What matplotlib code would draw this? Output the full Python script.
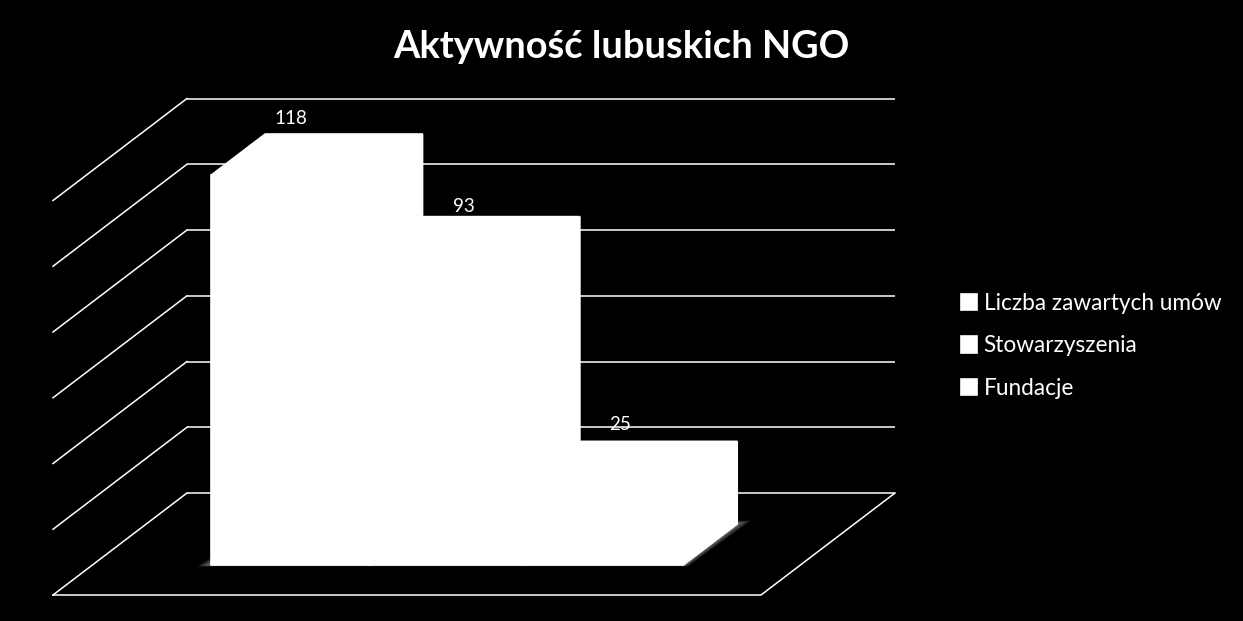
import matplotlib
matplotlib.use("Agg")
import matplotlib.pyplot as plt
import numpy as np
from matplotlib.patches import Polygon
from matplotlib.transforms import Affine2D, IdentityTransform

# data
title = "Aktywność lubuskich NGO"
series_names = ["Liczba zawartych umów", "Stowarzyszenia", "Fundacje"]
series_values = [118, 93, 25]
grid_levels = [0, 20, 40, 60, 80, 100, 120]

W, H = 1243, 621
# how far the front of the floor sits from the back wall, in pixels
floor_dx, floor_dy = 134, 102
bar_depth = 0.402
line_w = 1.1

plt.rcParams["font.family"] = ["Lato", "DejaVu Sans"]


def px_box(left, top, right, bottom):
    return [left / W, 1 - bottom / H, (right - left) / W, (bottom - top) / H]


def proj(ax, x, v, d):
    # data point on a plane d (0 back wall, 1 front of floor) -> display pixels
    p = ax.transData.transform((x, v))
    return p[0] - floor_dx * d, p[1] - floor_dy * d


fig = plt.figure(figsize=(W / 100, H / 100), dpi=100, facecolor="black")

# back wall axes holds the grid
wall = fig.add_axes(px_box(187, 98.5, 895, 493))
wall.set_xlim(0, 4.5)
wall.set_ylim(0, 120)
wall.autoscale(False)
wall.axis("off")

for level in grid_levels:
    wall.plot([0, 4.5], [level, level], color="white", lw=line_w, clip_on=False,
              solid_capstyle="butt")
    a = proj(wall, 0, level, 0)
    b = proj(wall, 0, level, 1)
    wall.plot([a[0], b[0]], [a[1], b[1]], color="white", lw=line_w,
              transform=IdentityTransform(), clip_on=False)

# rest of the floor
corners = [proj(wall, 0, 0, 1), proj(wall, 4.5, 0, 1), proj(wall, 4.5, 0, 0)]
wall.plot([c[0] for c in corners], [c[1] for c in corners], color="white",
          lw=line_w, transform=IdentityTransform(), clip_on=False)

# bars have a slightly different vertical scale and start further forward
bars = fig.add_axes(px_box(147.2, 524 - 396.6, 855.2, 524))
bars.set_xlim(0, 4.5)
bars.set_ylim(0, 120)
bars.autoscale(False)
bars.axis("off")

positions = [1.25, 2.25, 3.25]
left_edge = positions[0] - 0.5
right_edge = positions[-1] + 0.5

# soft shadow round the foot of the bars
foot = [proj(bars, left_edge, 0, bar_depth), proj(bars, right_edge, 0, bar_depth),
        proj(bars, right_edge, 0, 0), proj(bars, left_edge, 0, 0)]
for k in [5, 4, 3, 2, 1]:
    pts = [(foot[0][0] - 2.8 * k, foot[0][1] - 0.3 * k),
           (foot[1][0] + 0.9 * k, foot[1][1] - 0.3 * k),
           (foot[2][0] + 2.8 * k, foot[2][1] + 0.7 * k),
           (foot[3][0], foot[3][1])]
    bars.add_patch(Polygon(pts, closed=True, color="white", alpha=0.1, lw=0,
                           transform=IdentityTransform(), clip_on=False))

front = Affine2D().translate(-floor_dx * bar_depth, -floor_dy * bar_depth)
for pos, val, name in zip(positions, series_values, series_names):
    bars.bar(pos, val, 1, color="white", edgecolor="white", lw=1.2, label=name,
             transform=bars.transData + front, clip_on=False, zorder=3)
    x0, x1 = pos - 0.5, pos + 0.5
    top = [proj(bars, x0, val, bar_depth), proj(bars, x1, val, bar_depth),
           proj(bars, x1, val, 0), proj(bars, x0, val, 0)]
    side = [proj(bars, x1, 0, bar_depth), proj(bars, x1, 0, 0),
            proj(bars, x1, val, 0), proj(bars, x1, val, bar_depth)]
    for poly in (top, side):
        bars.add_patch(Polygon(poly, closed=True, facecolor="white", edgecolor="white",
                               lw=1.2, zorder=3, transform=IdentityTransform(),
                               clip_on=False))

# value labels
label_x = [291, 464, 620]
label_y = [118, 207, 425]
for x, y, val in zip(label_x, label_y, series_values):
    fig.text(x / W, 1 - y / H, str(val), color="white", fontsize=13.5,
             ha="center", va="center")

fig.text(621 / W, 1 - 47 / H, title, color="white", fontsize=27.4, fontweight="bold",
         ha="center", va="center")

fig.legend(*bars.get_legend_handles_labels(), loc="center left",
           bbox_to_anchor=(960.5 / W, 1 - 346 / H), frameon=False, fontsize=16.3,
           labelcolor="white", handlelength=0.75, handleheight=0.75,
           handletextpad=0.27, labelspacing=0.95, borderpad=0, borderaxespad=0)

fig.savefig("out.png", dpi=100, facecolor="black")
